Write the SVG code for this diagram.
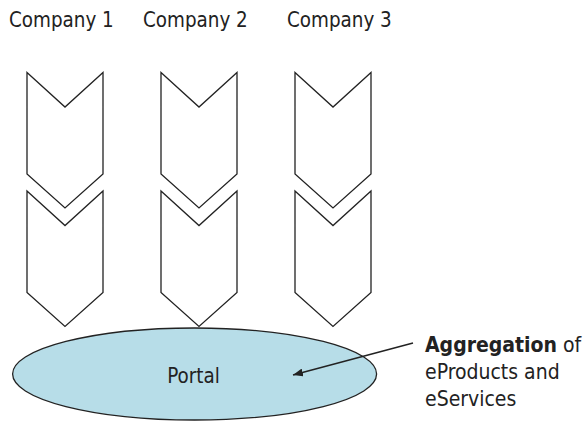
<svg xmlns="http://www.w3.org/2000/svg" width="585" height="421" viewBox="0 0 585 421">
<defs>
<style>
text{font-family:"DejaVu Sans Condensed","DejaVu Sans",sans-serif;font-size:20.4px;fill:#222}
.note{font-size:21px}
.chev{fill:#fff;stroke:#222;stroke-width:1.3;stroke-linejoin:miter}
.portal{fill:#b7dde8;stroke:#222;stroke-width:1.3}
.conn{stroke:#222;stroke-width:1.3;fill:none}
</style>
<path id="chevron" d="M0,0 L38,34.5 L76,0 V101.5 L38,135.5 L0,101.5 Z"/>
<marker id="ah" viewBox="0 0 10 8" refX="10" refY="4" markerWidth="10" markerHeight="8" markerUnits="userSpaceOnUse" orient="auto">
<path d="M0,0 L10,4 L0,8 Z" fill="#222"/>
</marker>
</defs>
<g id="labels">
<text x="9" y="26.5">Company 1</text>
<text x="143" y="26.5">Company 2</text>
<text x="287" y="26.5">Company 3</text>
</g>
<g id="company1">
<use href="#chevron" class="chev" x="27" y="191"/>
<use href="#chevron" class="chev" x="27" y="72.5"/>
</g>
<g id="company2">
<use href="#chevron" class="chev" x="161" y="191"/>
<use href="#chevron" class="chev" x="161" y="72.5"/>
</g>
<g id="company3">
<use href="#chevron" class="chev" x="295" y="191"/>
<use href="#chevron" class="chev" x="295" y="72.5"/>
</g>
<g id="portal">
<ellipse class="portal" cx="194.6" cy="374" rx="182" ry="46"/>
<text x="193.5" y="383" text-anchor="middle">Portal</text>
</g>
<g id="connectors">
<line class="conn" x1="413" y1="343" x2="293" y2="375" marker-end="url(#ah)"/>
</g>
<g id="note">
<text class="note" x="425" y="351.5"><tspan font-weight="bold">Aggregation</tspan> of</text>
<text class="note" x="425" y="379">eProducts and</text>
<text class="note" x="425" y="406">eServices</text>
</g>
</svg>
